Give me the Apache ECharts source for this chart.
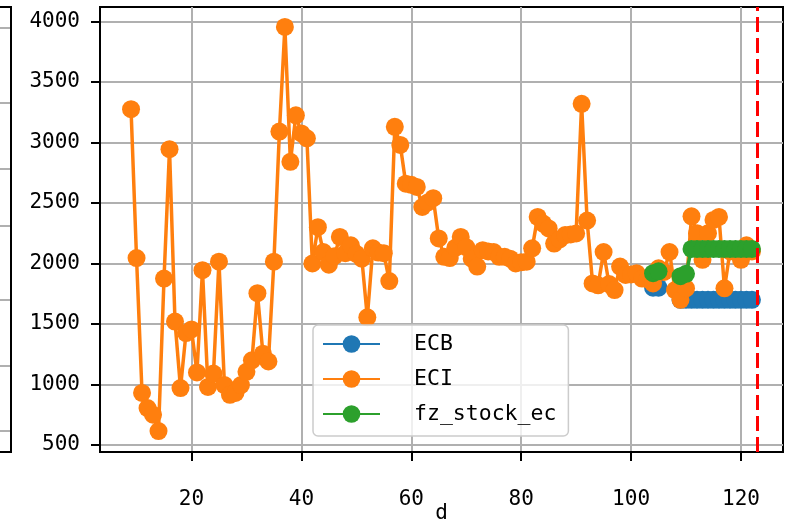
<!DOCTYPE html>
<html>
<head>
<meta charset="utf-8">
<script src="https://cdn.jsdelivr.net/npm/echarts@6/dist/echarts.min.js"></script>
<style>
html,body{margin:0;padding:0;background:#fff;}
#chart{width:797px;height:522px;}
</style>
</head>
<body>
<div id="chart"></div>
<script>
// ---- data ----
const days = [9,10,11,12,13,14,15,16,17,18,19,20,21,22,23,24,25,26,27,28,29,30,31,32,33,34,35,36,37,38,39,40,
  41,42,43,44,45,46,47,48,49,50,51,52,53,54,55,56,57,58,59,60,61,62,63,64,65,66,67,68,69,70,
  71,72,73,74,75,76,77,78,79,80,81,82,83,84,85,86,87,88,89,90,91,92,93,94,95,96,97,98,99,100,
  101,102,103,104,105,106,107,108,109,110,111,112,113,114,115,116,117,118,119,120,121,122];
const eci = [3275,2045,930,805,750,615,1875,2945,1520,970,1425,1455,1100,1945,980,1090,2015,995,915,930,995,1105,1200,1755,1255,1190,2015,3090,3955,2840,3225,3075,
  3035,2000,2300,2095,1990,2060,2220,2085,2150,2080,2040,1555,2125,2090,2085,1855,3130,2980,2660,2650,2633,2467,2505,2540,2207,2055,2045,2130,2220,2135,
  2040,1975,2110,2100,2095,2055,2055,2040,2000,2010,2015,2125,2385,2330,2290,2165,2200,2235,2240,2248,3320,2355,1835,1820,2095,1830,1780,1975,1905,1910,
  1920,1875,1870,1835,1960,1930,2095,1780,1700,1795,2390,2250,2030,2250,2360,2385,1795,2100,2100,2030,2150,2100];
const ecbDays = [104,105,106,107,108,109,110,111,112,113,114,115,116,117,118,119,120,121,122];
const ecb = [1800,1800,null,null,null,1700,1700,1700,1700,1700,1700,1700,1700,1700,1700,1700,1700,1700,1700];
const fzDays = [104,105,106,107,108,109,110,111,112,113,114,115,116,117,118,119,120,121,122];
const fz = [1920,1935,null,null,null,1895,1915,2120,2120,2120,2120,2120,2120,2120,2120,2120,2120,2120,2120];
const cutoffDay = 123;
const seriesNames = ['ECB','ECI','fz_stock_ec'];
const xTicks = [20,40,60,80,100,120];
const yTicks = [500,1000,1500,2000,2500,3000,3500,4000];
const xLabel = 'd';

function pairs(xs, ys){ return xs.map((x,i)=>[x, ys[i]]); }

const FONT = 'DejaVu Sans Mono';
const chart = echarts.init(document.getElementById('chart'), null, {renderer:'canvas'});

function lineSeries(name, data, color, z){
  return {
    name, type:'line', data, z,
    symbol:'circle', symbolSize:18,
    connectNulls:false,
    lineStyle:{color, width:3.5},
    itemStyle:{color, borderWidth:0},
    emphasis:{disabled:true},
    animation:false
  };
}

const s0 = lineSeries(seriesNames[0], pairs(ecbDays, ecb), '#1f77b4', 2);
const s1 = lineSeries(seriesNames[1], pairs(days, eci), '#ff7f0e', 3);
const s2 = lineSeries(seriesNames[2], pairs(fzDays, fz), '#2ca02c', 4);
s2.markLine = {
  silent:true, symbol:['none','none'], label:{show:false},
  lineStyle:{color:'#ff0000', width:3, type:[15,6]},
  data:[{xAxis:cutoffDay}],
  animation:false, z:10
};

const option = {
  animation:false,
  backgroundColor:'#ffffff',
  grid:{left:100, top:7, right:14, bottom:70, show:true, borderColor:'#000', borderWidth:2,
        backgroundColor:'transparent', containLabel:false, outerBoundsMode:'none'},
  xAxis:{
    type:'value', min:3.35, max:127.65,
    name:xLabel, nameLocation:'middle', nameGap:51, nameMoveOverlap:false,
    nameTextStyle:{fontFamily:FONT, fontSize:21, color:'#000'},
    axisLine:{show:true, lineStyle:{color:'#000', width:2}},
    axisTick:{show:true, length:9, lineStyle:{color:'#000', width:2}, customValues:xTicks},
    axisLabel:{fontFamily:FONT, fontSize:21, color:'#000', margin:37, customValues:xTicks,
               formatter:(v)=>String(v)},
    splitLine:{show:true, lineStyle:{color:'#b0b0b0', width:2}}
  },
  yAxis:{
    type:'value', min:442, max:4120,
    axisLine:{show:true, lineStyle:{color:'#000', width:2}},
    axisTick:{show:true, length:9, lineStyle:{color:'#000', width:2}, customValues:yTicks},
    axisLabel:{fontFamily:FONT, fontSize:21, color:'#000', margin:20, customValues:yTicks,
               formatter:(v)=>String(v)},
    splitLine:{show:true, lineStyle:{color:'#b0b0b0', width:2}}
  },
  legend:{
    orient:'vertical', left:313, top:325,
    data:seriesNames,
    itemWidth:57, itemHeight:22, itemGap:13,
    padding:[8,12,11,9],
    backgroundColor:'rgba(255,255,255,0.8)',
    borderColor:'#cccccc', borderWidth:1.5, borderRadius:5,
    textStyle:{fontFamily:FONT, fontSize:21.5, color:'#000', padding:[0,0,0,29]},
    selectedMode:false
  },
  graphic:[
    {type:'rect', shape:{x:-20, y:7, width:31, height:445}, style:{fill:'none', stroke:'#000', lineWidth:2}, z:100},
    {type:'line', shape:{x1:0,y1:28,x2:10,y2:28}, style:{stroke:'#b0b0b0', lineWidth:2}},
    {type:'line', shape:{x1:0,y1:103,x2:10,y2:103}, style:{stroke:'#b0b0b0', lineWidth:2}},
    {type:'line', shape:{x1:0,y1:169,x2:10,y2:169}, style:{stroke:'#b0b0b0', lineWidth:2}},
    {type:'line', shape:{x1:0,y1:226,x2:10,y2:226}, style:{stroke:'#b0b0b0', lineWidth:2}},
    {type:'line', shape:{x1:0,y1:300,x2:10,y2:300}, style:{stroke:'#b0b0b0', lineWidth:2}},
    {type:'line', shape:{x1:0,y1:366,x2:10,y2:366}, style:{stroke:'#b0b0b0', lineWidth:2}},
    {type:'line', shape:{x1:0,y1:431,x2:10,y2:431}, style:{stroke:'#b0b0b0', lineWidth:2}}
  ],
  series:[s0, s1, s2]
};
chart.setOption(option);
</script>
</body>
</html>
